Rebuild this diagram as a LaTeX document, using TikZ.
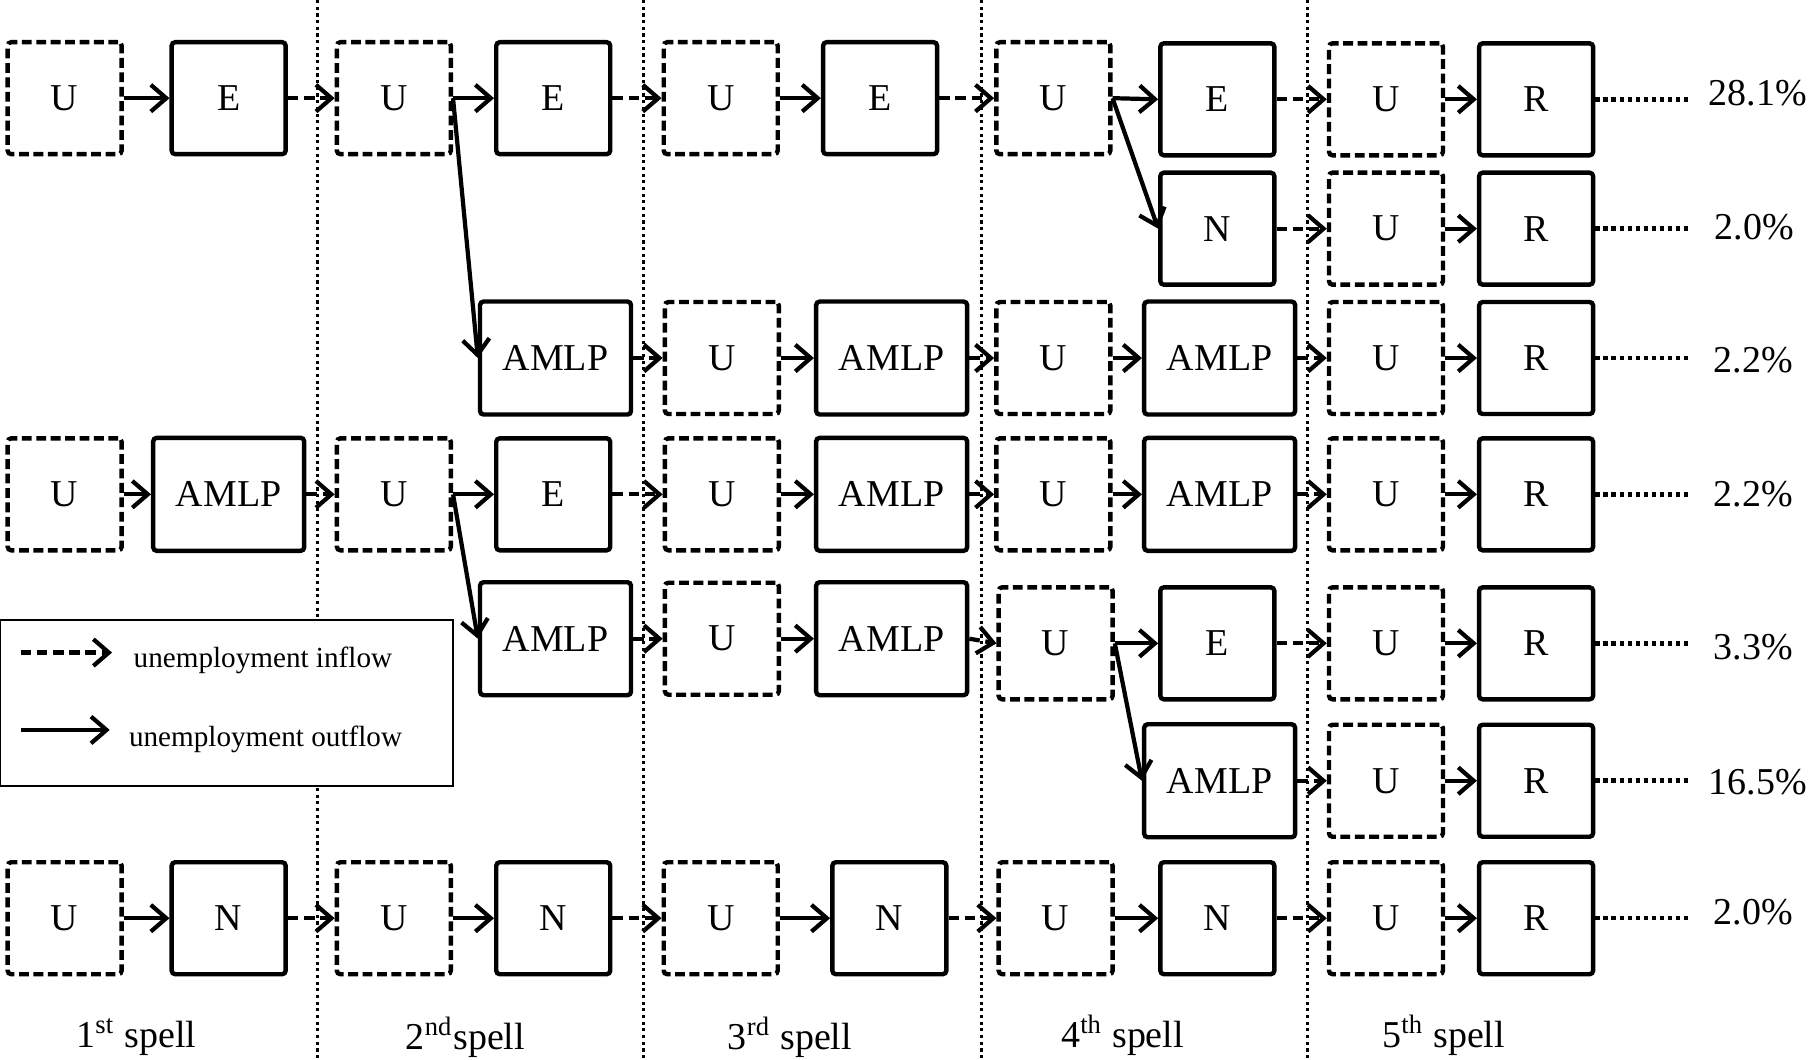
\documentclass[tikz,border=0pt]{standalone}
\usepackage{fontspec}
\setmainfont{Liberation Serif}
\usepackage{tikz}
\usetikzlibrary{arrows.meta,positioning}

\begin{document}
\begin{tikzpicture}[x=0.01155cm, y=-0.01155cm,
  every node/.style={font=\fontsize{10.8}{13}\selectfont},
  ubox/.style={draw, line width=1.25pt, dash pattern=on 2.8pt off 1.3pt, rounded corners=1pt,
    minimum width=1.14cm, minimum height=1.12cm, inner sep=0pt},
  sbox/.style={draw, line width=1.25pt, rounded corners=1pt,
    minimum width=1.14cm, minimum height=1.12cm, inner sep=0pt},
  abox/.style={sbox, minimum width=1.51cm, minimum height=1.13cm},
  outflow/.style={-{Straight Barb[length=4.4pt,width=7.6pt]}, line width=1.2pt},
  inflow/.style={outflow, dash pattern=on 3pt off 1.6pt},
  spelldiv/.style={line width=0.9pt, dash pattern=on 0.9pt off 1pt},
  shareline/.style={line width=1.3pt, dash pattern=on 1.2pt off 1.1pt}]
  \useasboundingbox (0,0) rectangle (1568,917);

  % spell dividers
  \coordinate (d1a) at (275,0);  \coordinate (d1b) at (275,917);
  \coordinate (d2a) at (557,0);  \coordinate (d2b) at (557,917);
  \coordinate (d3a) at (850,0);  \coordinate (d3b) at (850,917);
  \coordinate (d4a) at (1132,0); \coordinate (d4b) at (1132,917);
  \draw[spelldiv] (d1a) -- (d1b);
  \draw[spelldiv] (d2a) -- (d2b);
  \draw[spelldiv] (d3a) -- (d3b);
  \draw[spelldiv] (d4a) -- (d4b);

  % row 1
  \node[ubox] (r1u1) at (56,85) {U};
  \node[sbox] (r1e1) at (198,85) {E};
  \node[ubox] (r1u2) at (341,85) {U};
  \node[sbox] (r1e2) at (479,85) {E};
  \node[ubox] (r1u3) at (624,85) {U};
  \node[sbox] (r1e3) at (762,85) {E};
  \node[ubox] (r1u4) at (912,85) {U};
  \node[sbox] (r1e4) at (1054,86) {E};
  \node[ubox] (r1u5) at (1200,86) {U};
  \node[sbox] (r1r5) at (1330,86) {R};
  % row 2
  \node[sbox] (r2n4) at (1054,198) {N};
  \node[ubox] (r2u5) at (1200,198) {U};
  \node[sbox] (r2r5) at (1330,198) {R};
  % row 3
  \node[abox] (r3a2) at (481,310) {AMLP};
  \node[ubox] (r3u3) at (625,310) {U};
  \node[abox] (r3a3) at (772,310) {AMLP};
  \node[ubox] (r3u4) at (912,310) {U};
  \node[abox] (r3a4) at (1056,310) {AMLP};
  \node[ubox] (r3u5) at (1200,310) {U};
  \node[sbox] (r3r5) at (1330,310) {R};
  % row 4
  \node[ubox] (r4u1) at (56,428) {U};
  \node[abox] (r4a1) at (198,428) {AMLP};
  \node[ubox] (r4u2) at (341,428) {U};
  \node[sbox] (r4e2) at (479,428) {E};
  \node[ubox] (r4u3) at (625,428) {U};
  \node[abox] (r4a3) at (772,428) {AMLP};
  \node[ubox] (r4u4) at (912,428) {U};
  \node[abox] (r4a4) at (1056,428) {AMLP};
  \node[ubox] (r4u5) at (1200,428) {U};
  \node[sbox] (r4r5) at (1330,428) {R};
  % row 5
  \node[abox] (r5a2) at (481,553) {AMLP};
  \node[ubox] (r5u3) at (625,553) {U};
  \node[abox] (r5a3) at (772,553) {AMLP};
  \node[ubox] (r5u4) at (914,557) {U};
  \node[sbox] (r5e4) at (1054,557) {E};
  \node[ubox] (r5u5) at (1200,557) {U};
  \node[sbox] (r5r5) at (1330,557) {R};
  % row 6
  \node[abox] (r6a4) at (1056,676) {AMLP};
  \node[ubox] (r6u5) at (1200,676) {U};
  \node[sbox] (r6r5) at (1330,676) {R};
  % row 7
  \node[ubox] (r7u1) at (56,795) {U};
  \node[sbox] (r7n1) at (198,795) {N};
  \node[ubox] (r7u2) at (341,795) {U};
  \node[sbox] (r7n2) at (479,795) {N};
  \node[ubox] (r7u3) at (624,795) {U};
  \node[sbox] (r7n3) at (770,795) {N};
  \node[ubox] (r7u4) at (914,795) {U};
  \node[sbox] (r7n4) at (1054,795) {N};
  \node[ubox] (r7u5) at (1200,795) {U};
  \node[sbox] (r7r5) at (1330,795) {R};

  % outflows
  \draw[outflow] (r1u1) -- (r1e1);
  \draw[outflow] (r1u2) -- (r1e2);
  \draw[outflow] (r1u2.east) -- (r3a2.west);
  \draw[outflow] (r1u3) -- (r1e3);
  \draw[outflow] (r1u4.east) -- (r1e4.west);
  \draw[outflow] (r1u4.east) -- (r2n4.west);
  \draw[outflow] (r1u5) -- (r1r5);
  \draw[outflow] (r2u5) -- (r2r5);
  \draw[outflow] (r3u3) -- (r3a3);
  \draw[outflow] (r3u4) -- (r3a4);
  \draw[outflow] (r3u5) -- (r3r5);
  \draw[outflow] (r4u1) -- (r4a1);
  \draw[outflow] (r4u2) -- (r4e2);
  \draw[outflow] (r4u2.east) -- (r5a2.west);
  \draw[outflow] (r4u3) -- (r4a3);
  \draw[outflow] (r4u4) -- (r4a4);
  \draw[outflow] (r4u5) -- (r4r5);
  \draw[outflow] (r5u3) -- (r5a3);
  \draw[outflow] (r5u4) -- (r5e4);
  \draw[outflow] (r5u4.east) -- (r6a4.west);
  \draw[outflow] (r5u5) -- (r5r5);
  \draw[outflow] (r6u5) -- (r6r5);
  \draw[outflow] (r7u1) -- (r7n1);
  \draw[outflow] (r7u2) -- (r7n2);
  \draw[outflow] (r7u3) -- (r7n3);
  \draw[outflow] (r7u4) -- (r7n4);
  \draw[outflow] (r7u5) -- (r7r5);
  % inflows
  \draw[inflow] (r1e1) -- (r1u2);
  \draw[inflow] (r1e2) -- (r1u3);
  \draw[inflow] (r1e3) -- (r1u4);
  \draw[inflow] (r1e4) -- (r1u5);
  \draw[inflow] (r2n4) -- (r2u5);
  \draw[inflow] (r3a2) -- (r3u3);
  \draw[inflow] (r3a3) -- (r3u4);
  \draw[inflow] (r3a4) -- (r3u5);
  \draw[inflow] (r4a1) -- (r4u2);
  \draw[inflow] (r4e2) -- (r4u3);
  \draw[inflow] (r4a3) -- (r4u4);
  \draw[inflow] (r4a4) -- (r4u5);
  \draw[inflow] (r5a2) -- (r5u3);
  \draw[inflow] (r5a3.east) -- (r5u4.west);
  \draw[inflow] (r5e4) -- (r5u5);
  \draw[inflow] (r6a4) -- (r6u5);
  \draw[inflow] (r7n1) -- (r7u2);
  \draw[inflow] (r7n2) -- (r7u3);
  \draw[inflow] (r7n3) -- (r7u4);
  \draw[inflow] (r7n4) -- (r7u5);

  % shares
  \coordinate (s1) at (1464,86);  \node (p1) at (1522,81) {28.1\%};
  \coordinate (s2) at (1464,198); \node (p2) at (1519,197) {2.0\%};
  \coordinate (s3) at (1464,310); \node (p3) at (1518,312) {2.2\%};
  \coordinate (s4) at (1464,428); \node (p4) at (1518,428) {2.2\%};
  \coordinate (s5) at (1464,557); \node (p5) at (1518,560) {3.3\%};
  \coordinate (s6) at (1464,676); \node (p6) at (1522,677) {16.5\%};
  \coordinate (s7) at (1464,795); \node (p7) at (1518,790) {2.0\%};
  \draw[shareline] (r1r5.east) -- (s1);
  \draw[shareline] (r2r5.east) -- (s2);
  \draw[shareline] (r3r5.east) -- (s3);
  \draw[shareline] (r4r5.east) -- (s4);
  \draw[shareline] (r5r5.east) -- (s5);
  \draw[shareline] (r6r5.east) -- (s6);
  \draw[shareline] (r7r5.east) -- (s7);

  % legend
  \node[draw, fill=white, line width=0.6pt, minimum width=4.53cm, minimum height=1.66cm,
    inner sep=0pt] (legend) at (196,609) {};
  \coordinate (lgi1) at (18,565); \coordinate (lgi2) at (97,565);
  \coordinate (lgo1) at (18,632); \coordinate (lgo2) at (95,632);
  \draw[inflow] (lgi1) -- (lgi2);
  \draw[outflow] (lgo1) -- (lgo2);
  \node[anchor=west, font=\fontsize{8.3}{10}\selectfont] (lgin) at (105,572) {unemployment inflow};
  \node[anchor=west, font=\fontsize{8.3}{10}\selectfont] (lgout) at (101,640) {unemployment outflow};

  % spells
  \node (sp1) at (118,898) {1\textsuperscript{st} spell};
  \node (sp2) at (403,898) {2\textsuperscript{nd}spell};
  \node (sp3) at (684,898) {3\textsuperscript{rd} spell};
  \node (sp4) at (972,896) {4\textsuperscript{th} spell};
  \node (sp5) at (1250,896) {5\textsuperscript{th} spell};
\end{tikzpicture}
\end{document}
